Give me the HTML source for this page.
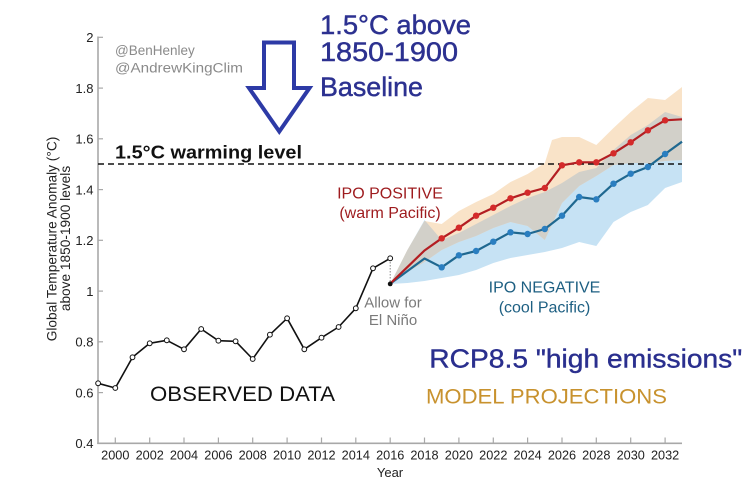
<!DOCTYPE html>
<html>
<head>
<meta charset="utf-8">
<style>
  html, body { margin: 0; padding: 0; background: #ffffff; }
  svg { display: block; }
  text { font-family: "Liberation Sans", "DejaVu Sans", sans-serif; }
</style>
</head>
<body>
<svg width="754" height="498" viewBox="0 0 754 498" xmlns="http://www.w3.org/2000/svg">
  <rect x="0" y="0" width="754" height="498" fill="#ffffff"/>
  <defs>
    <clipPath id="coolClip">
      <polygon points="390.2,284 407.4,250 424.5,220 441.7,240 458.9,233 476.1,224 493.3,215 510.5,206 527.6,198 544.8,192 562,183 579.2,172 596.3,168 613.5,150 630.7,135 647.9,125 665.1,112 682,117 682,182 665.1,188 647.9,205 630.7,212 613.5,222 596.3,246 579.2,242 562,248 544.8,252 527.6,255 510.5,258 493.3,263 476.1,270 458.9,275 441.7,278 424.5,281 407.4,283"/>
    </clipPath>
  </defs>

  <!-- cool (blue) band -->
  <polygon fill="#c6e2f4" points="390.2,284 407.4,250 424.5,220 441.7,240 458.9,233 476.1,224 493.3,215 510.5,206 527.6,198 544.8,192 562,183 579.2,172 596.3,168 613.5,150 630.7,135 647.9,125 665.1,112 682,117 682,182 665.1,188 647.9,205 630.7,212 613.5,222 596.3,246 579.2,242 562,248 544.8,252 527.6,255 510.5,258 493.3,263 476.1,270 458.9,275 441.7,278 424.5,281 407.4,283"/>
  <!-- warm (peach) band -->
  <polygon fill="#f9e3c8" points="390.2,284 407.4,250 424.5,221 441.7,224 458.9,211 476.1,202 493.3,194 510.5,182 527.6,174 544.8,163 552,140 562,137 579.2,137 596.3,145 613.5,128 630.7,112 647.9,98 665.1,100 682,87 682,160 665.1,161 647.9,163 630.7,163 613.5,165 596.3,176 579.2,186 562,203 544.8,240 527.6,226 510.5,222 493.3,228 476.1,236 458.9,242 441.7,250 424.5,262 407.4,272"/>
  <!-- overlap (grey) -->
  <polygon fill="#d2d0c9" clip-path="url(#coolClip)" points="390.2,284 407.4,250 424.5,221 441.7,224 458.9,211 476.1,202 493.3,194 510.5,182 527.6,174 544.8,163 552,140 562,137 579.2,137 596.3,145 613.5,128 630.7,112 647.9,98 665.1,100 682,87 682,160 665.1,161 647.9,163 630.7,163 613.5,165 596.3,176 579.2,186 562,203 544.8,240 527.6,226 510.5,222 493.3,228 476.1,236 458.9,242 441.7,250 424.5,262 407.4,272"/>

  <!-- axes -->
  <line x1="98" y1="36.5" x2="98" y2="444" stroke="#a8a8a8" stroke-width="1.6"/>
  <line x1="97.2" y1="443.3" x2="682" y2="443.3" stroke="#a8a8a8" stroke-width="1.6"/>

  <!-- y ticks -->
  <g stroke="#a8a8a8" stroke-width="1.2">
    <line x1="98" y1="37.3" x2="103" y2="37.3"/>
    <line x1="98" y1="88.1" x2="103" y2="88.1"/>
    <line x1="98" y1="138.8" x2="103" y2="138.8"/>
    <line x1="98" y1="189.6" x2="103" y2="189.6"/>
    <line x1="98" y1="240.3" x2="103" y2="240.3"/>
    <line x1="98" y1="291.1" x2="103" y2="291.1"/>
    <line x1="98" y1="341.8" x2="103" y2="341.8"/>
    <line x1="98" y1="392.6" x2="103" y2="392.6"/>
  </g>
  <g font-size="13" fill="#222" text-anchor="end">
    <text x="93.5" y="42">2</text>
    <text x="93.5" y="92.8">1.8</text>
    <text x="93.5" y="143.5">1.6</text>
    <text x="93.5" y="194.3">1.4</text>
    <text x="93.5" y="245">1.2</text>
    <text x="93.5" y="295.8">1</text>
    <text x="93.5" y="346.5">0.8</text>
    <text x="93.5" y="397.3">0.6</text>
    <text x="93.5" y="448">0.4</text>
  </g>

  <!-- x ticks -->
  <g stroke="#a8a8a8" stroke-width="1.2">
    <line x1="115.3" y1="443.3" x2="115.3" y2="437.5"/>
    <line x1="149.7" y1="443.3" x2="149.7" y2="437.5"/>
    <line x1="184" y1="443.3" x2="184" y2="437.5"/>
    <line x1="218.4" y1="443.3" x2="218.4" y2="437.5"/>
    <line x1="252.7" y1="443.3" x2="252.7" y2="437.5"/>
    <line x1="287.1" y1="443.3" x2="287.1" y2="437.5"/>
    <line x1="321.5" y1="443.3" x2="321.5" y2="437.5"/>
    <line x1="355.8" y1="443.3" x2="355.8" y2="437.5"/>
    <line x1="390.2" y1="443.3" x2="390.2" y2="437.5"/>
    <line x1="424.5" y1="443.3" x2="424.5" y2="437.5"/>
    <line x1="458.9" y1="443.3" x2="458.9" y2="437.5"/>
    <line x1="493.3" y1="443.3" x2="493.3" y2="437.5"/>
    <line x1="527.6" y1="443.3" x2="527.6" y2="437.5"/>
    <line x1="562" y1="443.3" x2="562" y2="437.5"/>
    <line x1="596.3" y1="443.3" x2="596.3" y2="437.5"/>
    <line x1="630.7" y1="443.3" x2="630.7" y2="437.5"/>
    <line x1="665.1" y1="443.3" x2="665.1" y2="437.5"/>
  </g>
  <g font-size="12.7" fill="#222" text-anchor="middle">
    <text x="115.3" y="459.5">2000</text>
    <text x="149.7" y="459.5">2002</text>
    <text x="184" y="459.5">2004</text>
    <text x="218.4" y="459.5">2006</text>
    <text x="252.7" y="459.5">2008</text>
    <text x="287.1" y="459.5">2010</text>
    <text x="321.5" y="459.5">2012</text>
    <text x="355.8" y="459.5">2014</text>
    <text x="390.2" y="459.5">2016</text>
    <text x="424.5" y="459.5">2018</text>
    <text x="458.9" y="459.5">2020</text>
    <text x="493.3" y="459.5">2022</text>
    <text x="527.6" y="459.5">2024</text>
    <text x="562" y="459.5">2026</text>
    <text x="596.3" y="459.5">2028</text>
    <text x="630.7" y="459.5">2030</text>
    <text x="665.1" y="459.5">2032</text>
  </g>
  <text x="390" y="477" font-size="13" fill="#222" text-anchor="middle">Year</text>

  <!-- y axis title -->
  <g font-size="13.7" fill="#222" text-anchor="middle">
    <text transform="translate(56.5,239) rotate(-90)">Global Temperature Anomaly (°C)</text>
    <text transform="translate(70,238.5) rotate(-90)">above 1850-1900 levels</text>
  </g>

  <!-- 1.5 warming dashed line -->
  <line x1="98" y1="164" x2="682" y2="164" stroke="#111" stroke-width="1.6" stroke-dasharray="6,4"/>

  <!-- dotted connector -->
  <line x1="390.2" y1="259" x2="390.2" y2="284" stroke="#888" stroke-width="1" stroke-dasharray="1.5,1.5"/>

  <!-- blue (IPO negative) line -->
  <polyline fill="none" stroke="#1f6890" stroke-width="2.2" stroke-linejoin="round" points="390.2,283.7 424.5,258.5 441.7,267.3 458.9,255.3 476.1,251 493.3,241.7 510.5,232.3 527.6,234 544.8,229 562,215.7 579.2,197 596.3,199.3 613.5,183.7 630.7,173.7 647.9,167 665.1,154 682,141.7"/>
  <g fill="#2a7ec0">
    <circle cx="441.7" cy="267.3" r="3.2"/>
    <circle cx="458.9" cy="255.3" r="3.2"/>
    <circle cx="476.1" cy="251" r="3.2"/>
    <circle cx="493.3" cy="241.7" r="3.2"/>
    <circle cx="510.5" cy="232.3" r="3.2"/>
    <circle cx="527.6" cy="234" r="3.2"/>
    <circle cx="544.8" cy="229" r="3.2"/>
    <circle cx="562" cy="215.7" r="3.2"/>
    <circle cx="579.2" cy="197" r="3.2"/>
    <circle cx="596.3" cy="199.3" r="3.2"/>
    <circle cx="613.5" cy="183.7" r="3.2"/>
    <circle cx="630.7" cy="173.7" r="3.2"/>
    <circle cx="647.9" cy="167" r="3.2"/>
    <circle cx="665.1" cy="154" r="3.2"/>
  </g>

  <!-- red (IPO positive) line -->
  <polyline fill="none" stroke="#b31e22" stroke-width="2.2" stroke-linejoin="round" points="390.2,283.7 424.5,250.5 441.7,238.3 458.9,227.7 476.1,215.7 493.3,207.7 510.5,198.3 527.6,192.7 544.8,188 562,165.3 579.2,162.3 596.3,162.3 613.5,153.3 630.7,142.3 647.9,130.3 665.1,120.3 682,119.3"/>
  <g fill="#d42a2a">
    <circle cx="441.7" cy="238.3" r="3.2"/>
    <circle cx="458.9" cy="227.7" r="3.2"/>
    <circle cx="476.1" cy="215.7" r="3.2"/>
    <circle cx="493.3" cy="207.7" r="3.2"/>
    <circle cx="510.5" cy="198.3" r="3.2"/>
    <circle cx="527.6" cy="192.7" r="3.2"/>
    <circle cx="544.8" cy="188" r="3.2"/>
    <circle cx="562" cy="165.3" r="3.2"/>
    <circle cx="579.2" cy="162.3" r="3.2"/>
    <circle cx="596.3" cy="162.3" r="3.2"/>
    <circle cx="613.5" cy="153.3" r="3.2"/>
    <circle cx="630.7" cy="142.3" r="3.2"/>
    <circle cx="647.9" cy="130.3" r="3.2"/>
    <circle cx="665.1" cy="120.3" r="3.2"/>
  </g>
  <circle cx="390.2" cy="283.9" r="2.4" fill="#111"/>

  <!-- observed data -->
  <polyline fill="none" stroke="#111" stroke-width="1.6" stroke-linejoin="round" points="98.1,383.3 115.3,388 132.5,357.3 149.7,343.3 166.8,340.3 184,349.3 201.2,329 218.4,340.7 235.6,341.3 252.7,359 269.9,334.7 287.1,318.3 304.3,349.3 321.5,337.7 338.6,327 355.8,308.3 373,268.3 390.2,258.3"/>
  <g fill="#ffffff" stroke="#111" stroke-width="1">
    <circle cx="98.1" cy="383.3" r="2.4"/>
    <circle cx="115.3" cy="388" r="2.4"/>
    <circle cx="132.5" cy="357.3" r="2.4"/>
    <circle cx="149.7" cy="343.3" r="2.4"/>
    <circle cx="166.8" cy="340.3" r="2.4"/>
    <circle cx="184" cy="349.3" r="2.4"/>
    <circle cx="201.2" cy="329" r="2.4"/>
    <circle cx="218.4" cy="340.7" r="2.4"/>
    <circle cx="235.6" cy="341.3" r="2.4"/>
    <circle cx="252.7" cy="359" r="2.4"/>
    <circle cx="269.9" cy="334.7" r="2.4"/>
    <circle cx="287.1" cy="318.3" r="2.4"/>
    <circle cx="304.3" cy="349.3" r="2.4"/>
    <circle cx="321.5" cy="337.7" r="2.4"/>
    <circle cx="338.6" cy="327" r="2.4"/>
    <circle cx="355.8" cy="308.3" r="2.4"/>
    <circle cx="373" cy="268.3" r="2.4"/>
    <circle cx="390.2" cy="258.3" r="2.4"/>
  </g>

  <!-- twitter handles -->
  <g font-size="13.5" fill="#8a8a8a">
    <text x="115" y="55">@BenHenley</text>
    <text x="115" y="72.7" textLength="128" lengthAdjust="spacingAndGlyphs">@AndrewKingClim</text>
  </g>

  <!-- arrow -->
  <polygon points="264,42.5 294,42.5 294,88 309.5,88 279.3,131.5 249,88 264,88" fill="#ffffff" stroke="#2d3aa6" stroke-width="4" stroke-linejoin="miter"/>

  <!-- heading -->
  <g font-size="27" fill="#2c3190" stroke="#2c3190" stroke-width="0.45">
    <text x="320" y="34" textLength="151" lengthAdjust="spacingAndGlyphs">1.5°C above</text>
    <text x="320" y="61" textLength="138" lengthAdjust="spacingAndGlyphs">1850-1900</text>
    <text x="320" y="96" textLength="103" lengthAdjust="spacingAndGlyphs">Baseline</text>
  </g>

  <!-- warming level label -->
  <text x="115" y="158.3" font-size="18" font-weight="bold" fill="#111" textLength="187" lengthAdjust="spacingAndGlyphs">1.5°C warming level</text>

  <!-- IPO labels -->
  <g font-size="16" fill="#9e1b1e" text-anchor="middle">
    <text x="390" y="198.3">IPO POSITIVE</text>
    <text x="390" y="217.8">(warm Pacific)</text>
  </g>
  <g font-size="16" fill="#1d5f82" text-anchor="middle">
    <text x="544.5" y="292.3">IPO NEGATIVE</text>
    <text x="544.5" y="312.5">(cool Pacific)</text>
  </g>

  <!-- El Nino note -->
  <g font-size="15" fill="#7a7a7a" text-anchor="middle">
    <text x="393" y="307.5">Allow for</text>
    <text x="393" y="325">El Niño</text>
  </g>

  <!-- big labels -->
  <text x="150" y="401" font-size="21.5" fill="#111" textLength="185" lengthAdjust="spacingAndGlyphs">OBSERVED DATA</text>
  <text x="429.3" y="367.5" font-size="26" fill="#2a2f8e" stroke="#2a2f8e" stroke-width="0.4" textLength="313" lengthAdjust="spacingAndGlyphs">RCP8.5 "high emissions"</text>
  <text x="426" y="403.3" font-size="21.5" fill="#c8922e" textLength="241" lengthAdjust="spacingAndGlyphs">MODEL PROJECTIONS</text>
</svg>
</body>
</html>
